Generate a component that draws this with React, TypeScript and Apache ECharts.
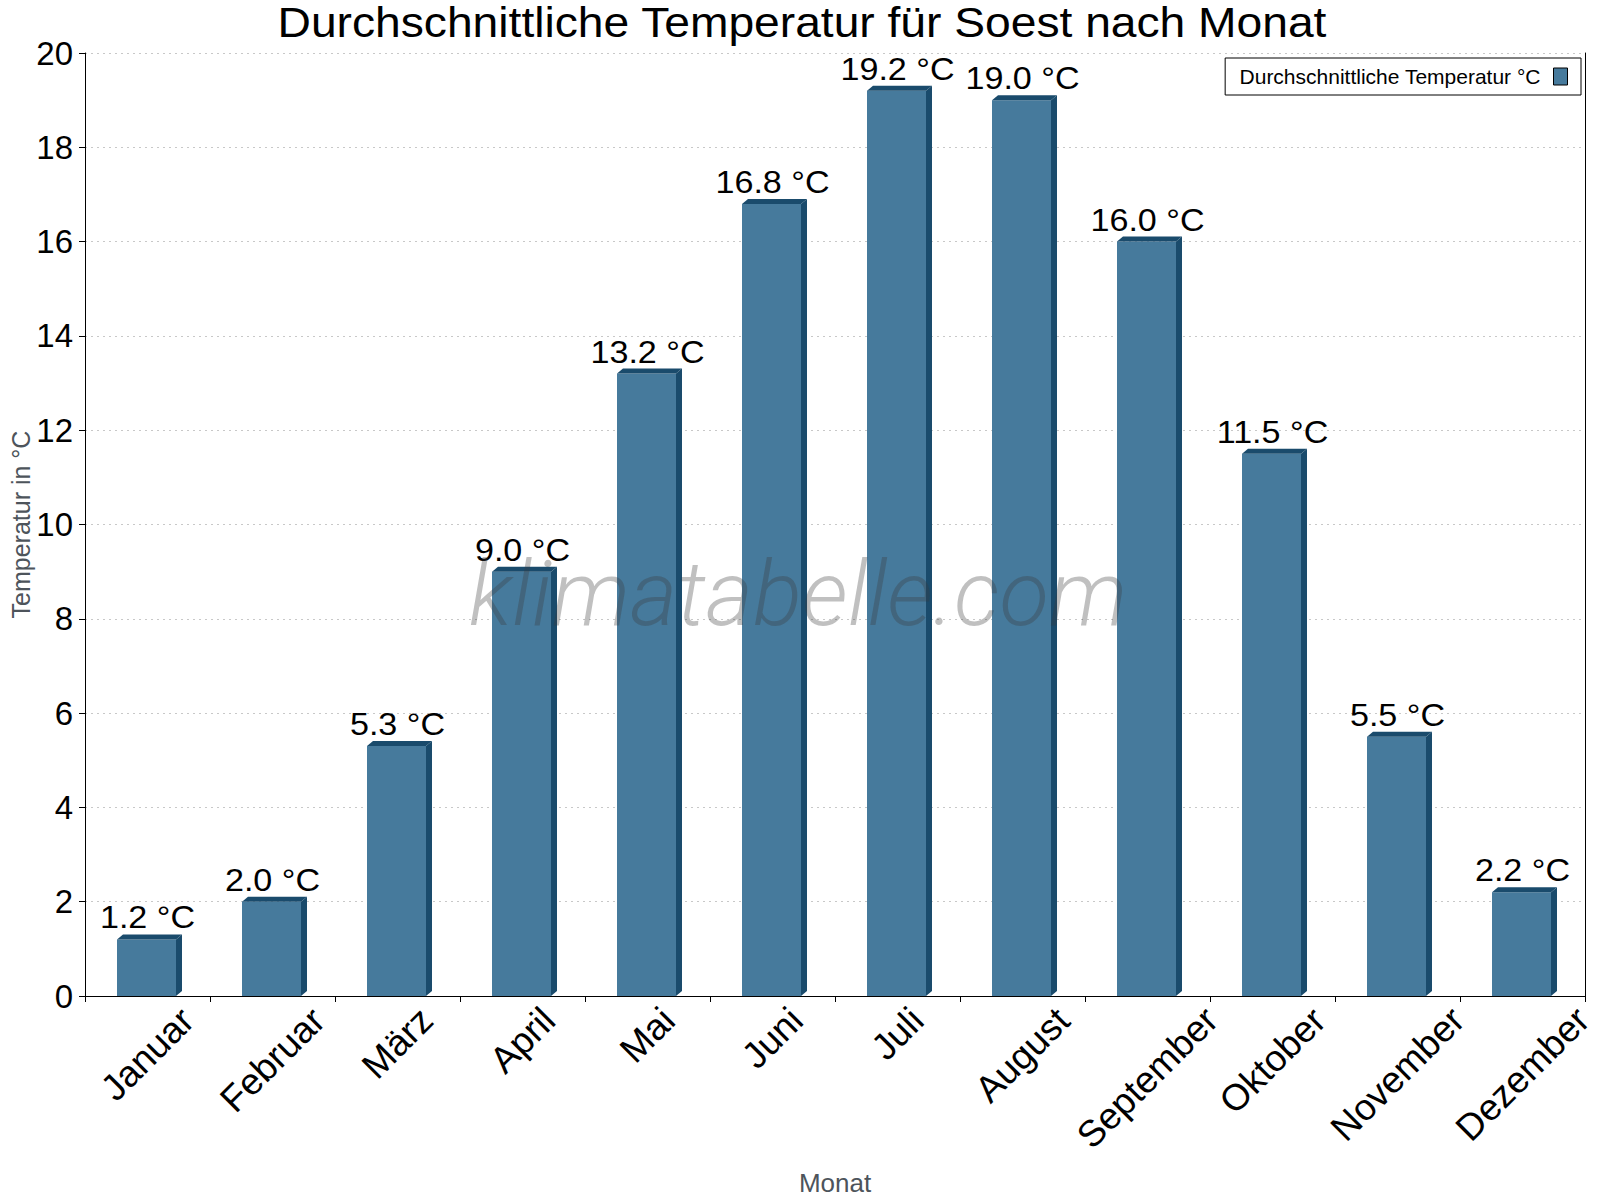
import * as echarts from 'echarts';
import { useEffect, useRef } from 'react';

const months = [
  'Januar', 'Februar', 'März', 'April', 'Mai', 'Juni',
  'Juli', 'August', 'September', 'Oktober', 'November', 'Dezember',
];
const temps = [1.2, 2.0, 5.3, 9.0, 13.2, 16.8, 19.2, 19.0, 16.0, 11.5, 5.5, 2.2];
const yMin = 0;
const yMax = 20;
const yStep = 2;

const seriesName = 'Durchschnittliche Temperatur °C';
const titleText = 'Durchschnittliche Temperatur für Soest nach Monat';

const FONT = '"Liberation Sans", Arial, Helvetica, sans-serif';
const FRONT = '#467a9c';
const DARK = '#1a4b6c';
const NAME_COLOR = '#4d545b';
const X_LABEL_SIZE = 37;

function measure(text: string, size: number) {
  const ctx = document.createElement('canvas').getContext('2d');
  if (!ctx) return text.length * size * 0.55;
  ctx.font = `${size}px ${FONT}`;
  return ctx.measureText(text).width;
}

export default function App() {
  const chartRef = useRef<HTMLDivElement>(null);

  useEffect(() => {
    document.body.style.margin = '0';
    if (!chartRef.current) return;

    const chart = echarts.init(chartRef.current, null, { renderer: 'svg' });

    // rotated labels: centred under the category, tops lined up
    const rich: Record<string, any> = {};
    months.forEach((m, i) => {
      const p = Math.round(measure(m, X_LABEL_SIZE) / 2);
      rich['m' + i] = { padding: [p, p, 0, 0] };
    });

    const dx = 6;
    const dy = 5;

    chart.setOption({
      animation: false,
      backgroundColor: '#fff',
      textStyle: { fontFamily: FONT },
      graphic: [
        {
          type: 'text',
          x: 802,
          y: 4,
          scaleX: 1.1,
          style: {
            text: titleText,
            fontSize: 42,
            lineHeight: 36,
            fontFamily: FONT,
            fill: '#000',
            textAlign: 'center',
            textVerticalAlign: 'top',
            align: 'center',
            verticalAlign: 'top',
          },
        },
        {
          type: 'text',
          x: 798,
          y: 594,
          z: 100,
          silent: true,
          style: {
            text: 'klimatabelle.com',
            fontSize: 91,
            fontStyle: 'italic',
            fontWeight: 300,
            fontFamily: 'Roboto, "Liberation Sans", sans-serif',
            fill: 'rgba(60,60,60,0.32)',
            textAlign: 'center',
            textVerticalAlign: 'middle',
            align: 'center',
            verticalAlign: 'middle',
          },
        },
      ],
      legend: {
        data: [seriesName],
        right: 19,
        top: 58,
        align: 'right',
        icon: 'rect',
        itemWidth: 14,
        itemHeight: 17,
        padding: [8, 13, 8, 14],
        borderColor: '#000',
        borderWidth: 1,
        backgroundColor: '#fff',
        itemStyle: { borderColor: '#000', borderWidth: 1 },
        textStyle: { fontSize: 21, color: '#000', fontFamily: FONT, padding: [0, 8, 0, 0] },
      },
      grid: {
        left: 85,
        right: 15,
        top: 53,
        bottom: 204,
        containLabel: false,
        outerBoundsMode: 'none',
      },
      xAxis: {
        type: 'category',
        data: months,
        boundaryGap: true,
        name: 'Monat',
        nameLocation: 'middle',
        nameGap: 174,
        nameMoveOverlap: false,
        nameTextStyle: { fontSize: 26, color: NAME_COLOR, fontFamily: FONT },
        axisLine: { show: true, lineStyle: { color: '#000', width: 1 } },
        axisTick: { show: true, alignWithLabel: false, length: 6, lineStyle: { color: '#000' } },
        axisLabel: {
          interval: 0,
          rotate: 45,
          align: 'center',
          verticalAlign: 'middle',
          margin: 18,
          fontSize: X_LABEL_SIZE,
          color: '#000',
          fontFamily: FONT,
          hideOverlap: false,
          formatter: (value: string, idx: number) => `{m${idx}|${value}}`,
          rich,
        },
        splitLine: { show: false },
      },
      yAxis: [
        {
          type: 'value',
          min: yMin,
          max: yMax,
          interval: yStep,
          name: 'Temperatur in °C',
          nameLocation: 'middle',
          nameGap: 52,
          nameMoveOverlap: false,
          nameTextStyle: { fontSize: 25, color: NAME_COLOR, fontFamily: FONT },
          axisLine: { show: true, lineStyle: { color: '#000', width: 1 } },
          axisTick: { show: true, length: 6, lineStyle: { color: '#000' } },
          axisLabel: { fontSize: 33, color: '#000', margin: 12, fontFamily: FONT },
          splitLine: {
            show: true,
            lineStyle: { color: '#c8c8c8', width: 1, type: [2, 4] },
          },
        },
        {
          type: 'value',
          position: 'right',
          min: yMin,
          max: yMax,
          interval: yStep,
          axisLine: { show: true, lineStyle: { color: '#000', width: 1 } },
          axisTick: { show: false },
          axisLabel: { show: false },
          splitLine: { show: false },
        },
      ],
      series: [
        {
          name: seriesName,
          type: 'custom',
          itemStyle: { color: FRONT },
          encode: { x: 0, y: 1 },
          data: temps.map((t, i) => [i, t]),
          renderItem: (params: any, api: any) => {
            const idx = api.value(0);
            const v = api.value(1);
            const top = api.coord([idx, v]);
            const base = api.coord([idx, 0]);
            const band = api.size([1, 0])[0];
            const w = band * 0.472;
            const cx = top[0];
            const left = cx - w / 2 - 1;
            const right = left + w;
            const y0 = top[1];
            const y1 = base[1];
            return {
              type: 'group',
              children: [
                {
                  type: 'rect',
                  shape: { x: left, y: y0, width: w, height: y1 - y0 },
                  style: { fill: FRONT },
                },
                {
                  type: 'polygon',
                  shape: {
                    points: [
                      [left, y0],
                      [left + dx, y0 - dy],
                      [right + dx, y0 - dy],
                      [right, y0],
                    ],
                  },
                  style: { fill: DARK },
                },
                {
                  type: 'polygon',
                  shape: {
                    points: [
                      [right, y0],
                      [right + dx, y0 - dy],
                      [right + dx, y1 - dy],
                      [right, y1],
                    ],
                  },
                  style: { fill: DARK },
                },
                {
                  type: 'text',
                  x: cx,
                  y: y0 - dy - 1,
                  scaleX: 1.1,
                  style: {
                    text: `${v.toFixed(1)} °C`,
                    fontSize: 31,
                    fontFamily: FONT,
                    fill: '#000',
                    textAlign: 'center',
                    textVerticalAlign: 'bottom',
                    align: 'center',
                    verticalAlign: 'bottom',
                  },
                },
              ],
            };
          },
        },
      ],
    });

    const handleResize = () => chart.resize();
    window.addEventListener('resize', handleResize);

    return () => {
      window.removeEventListener('resize', handleResize);
      chart.dispose();
    };
  }, []);

  return <div ref={chartRef} style={{ width: '1600px', height: '1200px' }} />;
}
